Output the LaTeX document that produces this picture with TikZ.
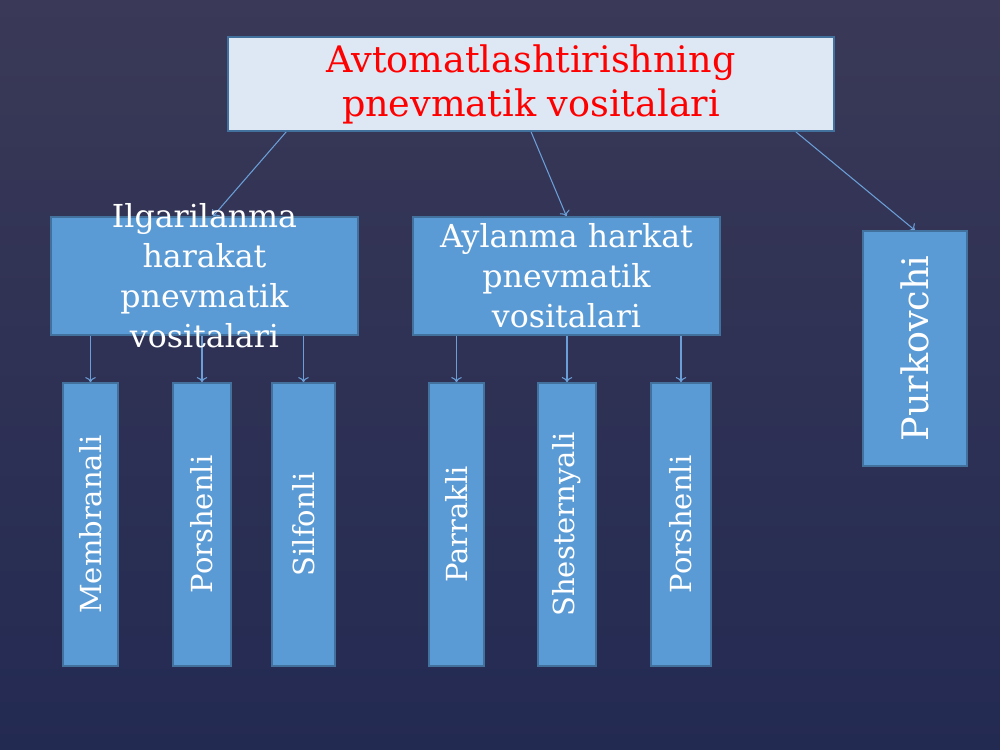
\documentclass[tikz,border=0pt]{standalone}
\usepackage{fontspec}
\setmainfont{DejaVu Serif}
\usetikzlibrary{arrows.meta}
\definecolor{bgtop}{HTML}{3A3957}
\definecolor{bgbot}{HTML}{232A52}
\definecolor{boxblue}{HTML}{5B9BD5}
\definecolor{boxline}{HTML}{41719C}
\definecolor{titlefill}{HTML}{DDE8F4}
\definecolor{arrblue}{HTML}{6A9FD8}
\pgfdeclarelayer{bg}
\pgfdeclarelayer{background}
\pgfsetlayers{bg,background,main}
\tikzset{
  titlebox/.style={draw=boxline,fill=titlefill,line width=0.8pt,text=red,align=center,
    font=\fontsize{20.8pt}{25pt}\selectfont,minimum width=12.12cm,minimum height=1.88cm},
  groupbox/.style={draw=boxline,fill=boxblue,line width=0.8pt,
    minimum width=6.14cm,minimum height=2.36cm},
  grouptext/.style={text=white,align=center,font=\fontsize{18pt}{22.7pt}\selectfont},
  itembox/.style={draw=boxline,fill=boxblue,line width=0.8pt,text=white,rotate=90,
    font=\fontsize{16.5pt}{20pt}\selectfont,minimum width=5.66cm,inner sep=0pt},
  arr/.style={draw=arrblue,line width=0.6pt,-{To[length=3pt,width=6pt]}}
}
\begin{document}
\begin{tikzpicture}[x=0.02cm,y=-0.02cm]
  % background
  \begin{pgfonlayer}{bg}
    \shade [top color=bgtop,bottom color=bgbot] (0,0) rectangle (1000,750);
  \end{pgfonlayer}
  \useasboundingbox (0,0) rectangle (1000,750);
  % top box
  \node [titlebox] (title) at (531,84) {Avtomatlashtirishning\\pnevmatik vositalari};
  % middle boxes
  \node [groupbox] (ilg) at (204.5,276) {};
  \node [grouptext] (ilgtext) at (ilg.center) {Ilgarilanma\\harakat\\pnevmatik\\vositalari};
  \node [groupbox] (ayl) at (566.5,276) {};
  \node [grouptext] (ayltext) at (ayl.center) {Aylanma harkat\\pnevmatik\\vositalari};
  \node [itembox,minimum width=4.7cm,minimum height=2.08cm,
    font=\fontsize{20.8pt}{25pt}\selectfont] (purk) at (915,348.5) {Purkovchi};
  % bottom boxes left
  \node [itembox,minimum height=1.10cm] (memb) at (90.5,524.5) {Membranali};
  \node [itembox,minimum height=1.16cm] (porsha) at (202,524.5) {Porshenli};
  \node [itembox,minimum height=1.26cm] (silf) at (303.5,524.5) {Silfonli};
  % bottom boxes right
  \node [itembox,minimum height=1.10cm] (parr) at (456.5,524.5) {Parrakli};
  \node [itembox,minimum height=1.16cm] (shest) at (567,524.5) {Shesternyali};
  \node [itembox,minimum height=1.20cm] (porshb) at (681,524.5) {Porshenli};
  % arrows
  \begin{pgfonlayer}{background}
    \draw [arr] ([xshift=1.18cm]title.south west) -- ([xshift=0.17cm]ilg.north);
    \draw [arr] (title.south) -- (ayl.north);
    \draw [arr] ([xshift=-0.78cm]title.south east) -- (purk.east);
    \draw [arr] (ilg.south -| memb) -- (memb.east);
    \draw [arr] (ilg.south -| porsha) -- (porsha.east);
    \draw [arr] (ilg.south -| silf) -- (silf.east);
    \draw [arr] (ayl.south -| parr) -- (parr.east);
    \draw [arr] (ayl.south -| shest) -- (shest.east);
    \draw [arr] (ayl.south -| porshb) -- (porshb.east);
  \end{pgfonlayer}
\end{tikzpicture}
\end{document}
